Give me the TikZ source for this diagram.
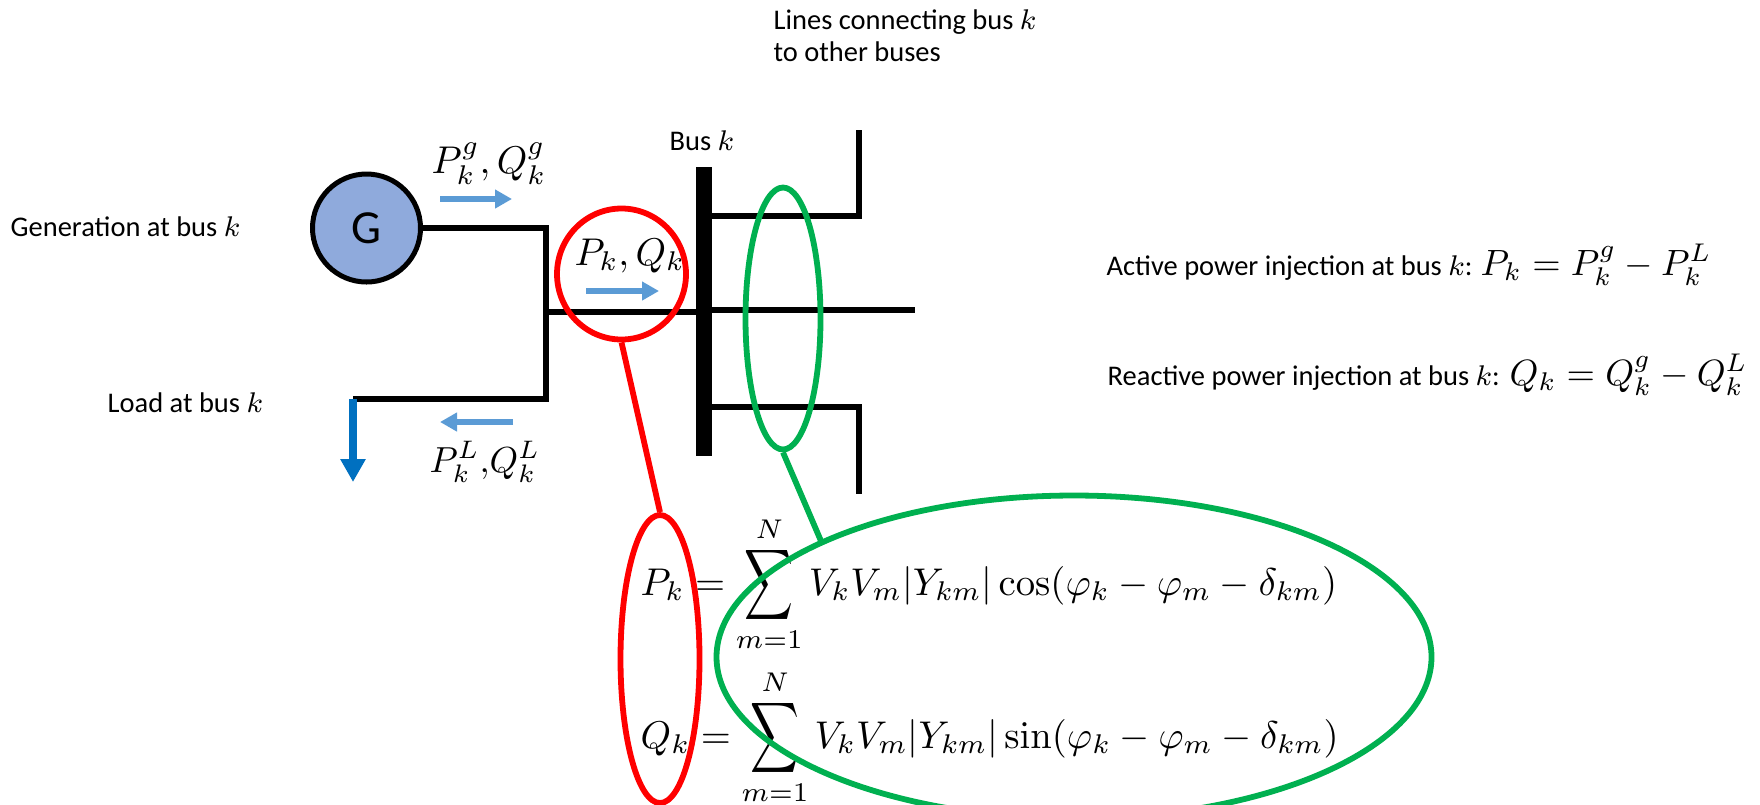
\RequirePackage{fix-cm}
\documentclass[tikz,border=0pt]{standalone}
\usepackage{amsmath}
\usepackage[no-math]{fontspec}
\setmainfont{Carlito}
\usepackage{tikz}
\usetikzlibrary{arrows.meta,shapes.geometric}
\definecolor{busblue}{HTML}{8FAADC}
\definecolor{flowblue}{HTML}{5B9BD5}
\definecolor{loadblue}{HTML}{0070C0}
\definecolor{ringgreen}{HTML}{00B050}
\newcommand{\tallsum}{\mathop{\vcenter{\hbox{\scalebox{0.88}[1.28]{$\displaystyle\sum$}}}}\limits}
\tikzset{
	busline/.style={line width=0.54mm,line join=miter},
	flow/.style={draw=flowblue,line width=0.55mm,-{Triangle[length=1.7mm,width=1.8mm]}},
	ring/.style={ellipse,draw,line width=0.58mm,inner sep=0pt},
	lead/.style={line width=0.58mm},
	txt/.style={anchor=base west,inner sep=0pt,font=\fontsize{8.1}{10}\selectfont},
	eqn/.style={anchor=base west,inner sep=0pt,font=\fontsize{11}{13}\selectfont},
	sideeqn/.style={eqn,font=\fontsize{10.4}{13}\selectfont}
}
\begin{document}
\begin{tikzpicture}[x=0.1mm,y=-0.1mm]
		\clip (0,0) rectangle (1760,804);
		\node[circle,draw,line width=0.5mm,fill=busblue,minimum size=10.8mm,inner sep=0pt,font=\fontsize{13.5}{15}\selectfont] (gen) at (366.5,228) {G};
		\node[rectangle,fill=black,minimum width=1.6mm,minimum height=28.9mm,inner sep=0pt,outer sep=0pt] (bus) at (704,311.5) {};
		\coordinate (gtop) at (546,228);
		\coordinate (gbot) at (546,399);
		\coordinate (gmid) at (546,312);
		\coordinate (loadend) at (353,399);
		\coordinate (loadtip) at (353,482);
		\coordinate (midend) at (915,310);
		\coordinate (topturn) at (859,216);
		\coordinate (topend) at (859,130);
		\coordinate (botturn) at (859,407);
		\coordinate (botend) at (859,494);
		\draw[busline] (gen) -- (gtop) -- (gbot) -- (loadend);
		\draw[busline] (gmid) -- (bus.west |- gmid);
		\draw[busline] (bus.east |- midend) -- (midend);
		\draw[busline] (bus.east |- topturn) -- (topturn) -- (topend);
		\draw[busline] (bus.east |- botturn) -- (botturn) -- (botend);
		\draw[draw=loadblue,line width=0.76mm,-{Triangle[length=2.3mm,width=2.4mm]}] (loadend) -- (loadtip);
		% power flow arrows
		\coordinate (genfrom) at (440,199);
		\coordinate (gento) at (512,199);
		\coordinate (injfrom) at (586,291);
		\coordinate (injto) at (659,291);
		\coordinate (loadfrom) at (513,422);
		\coordinate (loadto) at (440,422);
		\draw[flow] (genfrom) -- (gento);
		\draw[flow] (injfrom) -- (injto);
		\draw[flow] (loadfrom) -- (loadto);
		% labels
		\node[txt] (genlabel) at (10,236) {Generation at bus $k$};
		\node[txt] (loadlabel) at (107,412) {Load at bus $k$};
		\node[txt] (buslabel) at (669,150) {Bus $k$};
		\node[txt] (lineslabel) at (773,29) {Lines connecting bus $k$};
		\node[txt] (lineslabelb) at (773,61) {to other buses};
		\node[eqn] (genflow) at (431,173) {$P_k^g,Q_k^g$};
		\node[eqn] (injflow) at (574,265) {$P_k,Q_k$};
		\node[eqn,font=\fontsize{10.3}{13}\selectfont] (loadflow) at (429,472) {$P_k^L,\!Q_k^L$};
		\node[txt] (activetxt) at (1106,275) {Active power injection at bus $k$:};
		\node[sideeqn] (activeeq) at (1480,275) {$P_k=P_k^g-P_k^L$};
		\node[txt] (reactivetxt) at (1107,385) {Reactive power injection at bus $k$:};
		\node[sideeqn] (reactiveeq) at (1509,385) {$Q_k=Q_k^g-Q_k^L$};
		\node[eqn] (peq) at (640,595) {$\displaystyle P_k=\tallsum_{m=1}^{N}V_kV_m|Y_{km}|\cos(\varphi_k-\varphi_m-\delta_{km})$};
		\node[eqn] (qeq) at (640,748) {$\displaystyle Q_k=\tallsum_{m=1}^{N}V_kV_m|Y_{km}|\sin(\varphi_k-\varphi_m-\delta_{km})$};
		% rings
		\node[ring,draw=red,minimum width=12.9mm,minimum height=13.1mm] (redtop) at (621.5,274) {};
		\node[ring,draw=red,minimum width=7.9mm,minimum height=28.8mm] (redbot) at (660,659) {};
		\node[ring,draw=ringgreen,minimum width=7.5mm,minimum height=26.2mm] (greentop) at (783,318.5) {};
		\node[ring,draw=ringgreen,minimum width=71.5mm,minimum height=32.3mm] (greenbot) at (1074,657) {};
		\coordinate (greenhit) at (821,541);
		\draw[lead,red] (redtop.south) -- (redbot.north);
		\draw[lead,ringgreen] (greentop.south) -- (greenhit);
\end{tikzpicture}
\end{document}
